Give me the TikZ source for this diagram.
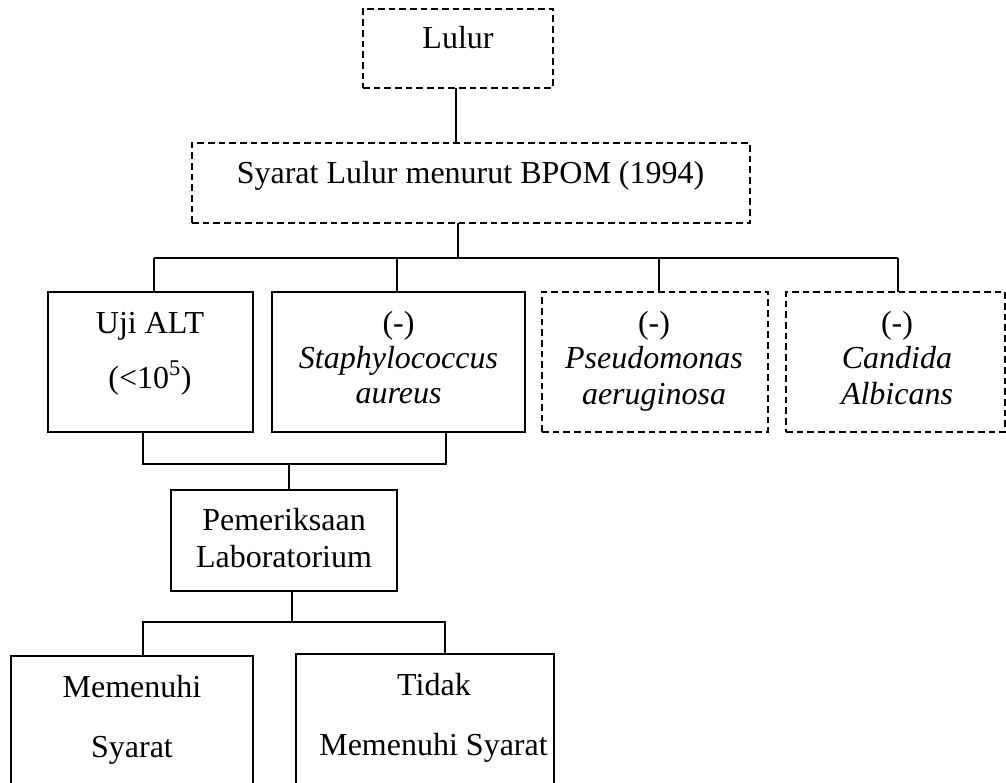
\documentclass[tikz,border=0pt]{standalone}
\usepackage{fontspec}
\setmainfont{Liberation Serif}
\begin{document}
\begin{tikzpicture}[x=0.75pt,y=-0.75pt,
  dims/.style 2 args={minimum width=0.75pt*#1, minimum height=0.75pt*#2, inner sep=0pt, outer sep=0pt},
  solidbox/.style={draw, line width=1.5pt},
  dashbox/.style={draw, line width=1.3pt, dash pattern=on 5pt off 3pt},
  conn/.style={line width=1.5pt},
  txt/.style={anchor=base, inner sep=0pt, font=\fontsize{24}{28}\selectfont},
  itxt/.style={txt, font=\fontsize{24}{28}\selectfont\itshape}]
\useasboundingbox (0,0) rectangle (1006,782);
\clip (0,0) rectangle (1006,782);

% boxes
\node[dashbox, dims={190}{79}] (lulur) at (458,48.5) {};
\node[dashbox, dims={558}{80}] (syarat) at (471,183) {};
\node[solidbox, dims={205}{140}] (uji) at (150.5,362) {};
\node[solidbox, dims={253}{140}] (staph) at (398.5,362) {};
\node[dashbox, dims={226}{140}] (pseudo) at (655,362) {};
\node[dashbox, dims={219}{140}] (candida) at (895.5,362) {};
\node[solidbox, dims={226}{101}] (pem) at (284,540.5) {};
\node[solidbox, dims={242}{150}] (mem) at (132,731) {};
\node[solidbox, dims={258}{152}] (tidak) at (425,730) {};

% texts
\node[txt] (tlulur) at (458,48) {Lulur};
\node[txt] (tsyarat) at (470.5,183) {Syarat Lulur menurut BPOM (1994)};
\node[txt] (tuji1) at (150,333) {Uji ALT};
\node[txt] (tuji2) at (150,388) {(<10\textsuperscript{5})};
\node[txt] (tst1) at (398.5,333) {(-)};
\node[itxt] (tst2) at (398.5,368) {Staphylococcus};
\node[itxt] (tst3) at (398.5,403) {aureus};
\node[txt] (tps1) at (654,333) {(-)};
\node[itxt] (tps2) at (654,368) {Pseudomonas};
\node[itxt] (tps3) at (654,404) {aeruginosa};
\node[txt] (tca1) at (897,333) {(-)};
\node[itxt] (tca2) at (897,368) {Candida};
\node[itxt] (tca3) at (897,404) {Albicans};
\node[txt] (tpem1) at (284,530) {Pemeriksaan};
\node[txt] (tpem2) at (284,567) {Laboratorium};
\node[txt] (tmem1) at (132,697) {Memenuhi};
\node[txt] (tmem2) at (132,757) {Syarat};
\node[txt] (ttid1) at (434,695) {Tidak};
\node[txt] (ttid2) at (433.5,755) {Memenuhi Syarat};

% junction coordinates
\coordinate (h1) at (458,258);
\coordinate (hl) at (154,258);
\coordinate (t2) at (397,258);
\coordinate (t3) at (659,258);
\coordinate (hr) at (898,258);
\coordinate (jl) at (143,464);
\coordinate (jm) at (289,464);
\coordinate (jr) at (446,464);
\coordinate (kl) at (143,622);
\coordinate (km) at (292,622);
\coordinate (kr) at (445,622);

% connectors
\draw[conn] (lulur.south -| 456,0) -- (syarat.north -| 456,0);
\draw[conn] (syarat.south -| h1) -- (h1);
\draw[conn] (hl) -- (hr);
\draw[conn] (hl) -- (hl |- uji.north);
\draw[conn] (t2) -- (t2 |- staph.north);
\draw[conn] (t3) -- (t3 |- pseudo.north);
\draw[conn] (hr) -- (hr |- candida.north);
\draw[conn] (jl |- uji.south) -- (jl) -- (jr) -- (jr |- staph.south);
\draw[conn] (jm) -- (jm |- pem.north);
\draw[conn] (km |- pem.south) -- (km);
\draw[conn] (kl |- mem.north) -- (kl) -- (kr) -- (kr |- tidak.north);
\end{tikzpicture}
\end{document}
